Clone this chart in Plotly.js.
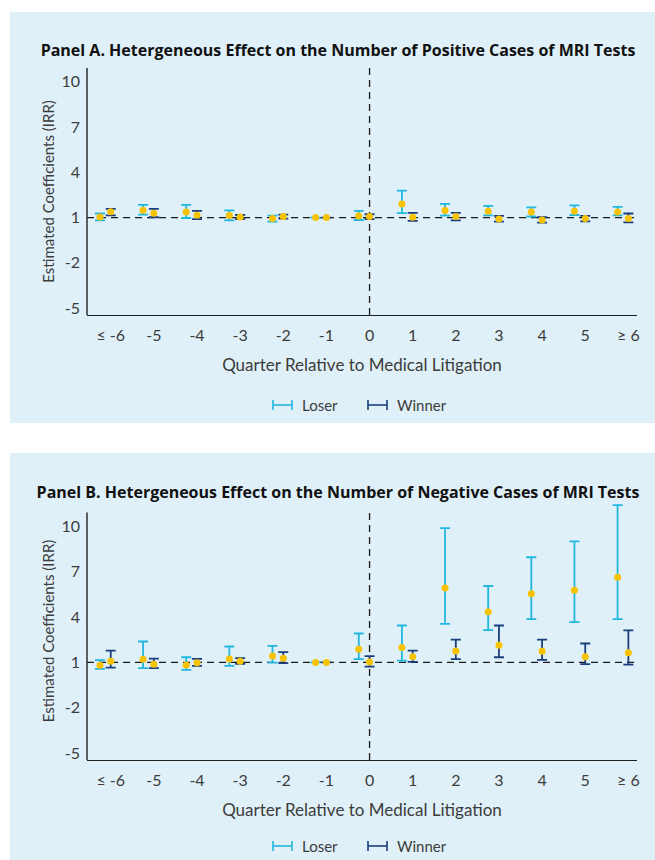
<!DOCTYPE html>
<html>
<head>
<meta charset="utf-8">
<script src="https://cdn.plot.ly/plotly-3.0.1.min.js"></script>
<style>
  html, body { margin: 0; padding: 0; background: #ffffff; width: 655px; height: 860px; overflow: hidden; }
  #panelA { position: absolute; left: 10px; top: 12px; width: 645px; height: 411px; }
  #panelB { position: absolute; left: 10px; top: 453px; width: 645px; height: 407px; }
</style>
</head>
<body>
<div id="panelA"></div>
<div id="panelB"></div>
<script>
// ---- Data ----
const quarters = ['≤ -6', '-5', '-4', '-3', '-2', '-1', '0', '1', '2', '3', '4', '5', '≥ 6'];
const yTicks = [-5, -2, 1, 4, 7, 10];
const nullIRR = 1;            // reference line (IRR = 1)
const eventQuarter = '0';     // litigation quarter

// Panel A: positive cases
const posLoserPt  = [1.04, 1.49, 1.36, 1.13, 0.93, 1.00, 1.11, 1.89, 1.47, 1.42, 1.36, 1.42, 1.36];
const posLoserHi  = [1.27, 1.84, 1.84, 1.47, 1.13, null, 1.44, 2.78, 1.91, 1.78, 1.67, 1.80, 1.71];
const posLoserLo  = [0.82, 1.20, 0.97, 0.82, 0.73, null, 0.84, 1.29, 1.13, 1.15, 1.07, 1.17, 1.15];
const posWinnerPt = [1.38, 1.29, 1.15, 1.04, 1.07, 1.00, 1.07, 1.02, 1.07, 0.91, 0.84, 0.93, 0.93];
const posWinnerHi = [1.58, 1.58, 1.44, 1.17, 1.20, null, 1.22, 1.31, 1.31, 1.11, 1.02, 1.11, 1.27];
const posWinnerLo = [1.15, 1.02, 0.89, 0.89, 0.93, null, 0.90, 0.78, 0.82, 0.73, 0.66, 0.75, 0.68];

// Panel B: negative cases
const negLoserPt  = [0.81, 1.21, 0.83, 1.23, 1.43, 1.00, 1.87, 1.98, 5.92, 4.35, 5.54, 5.76, 6.62];
const negLoserHi  = [1.15, 2.38, 1.34, 2.05, 2.09, null, 2.91, 3.44, 9.87, 6.05, 7.95, 9.00, 11.39];
const negLoserLo  = [0.57, 0.62, 0.50, 0.77, 0.99, null, 1.21, 1.12, 3.55, 3.13, 3.86, 3.66, 3.86];
const negWinnerPt = [1.08, 0.88, 0.97, 1.08, 1.28, 1.00, 1.03, 1.38, 1.76, 2.14, 1.74, 1.38, 1.63];
const negWinnerHi = [1.78, 1.25, 1.23, 1.28, 1.68, null, 1.41, 1.78, 2.51, 3.44, 2.51, 2.25, 3.11];
const negWinnerLo = [0.66, 0.62, 0.77, 0.90, 0.95, null, 0.72, 1.03, 1.21, 1.34, 1.17, 0.88, 0.85];

// ---- Styles ----
const BG = '#dff0f8';
const LOSER_C = '#22b7df';
const WINNER_C = '#1b3f7d';
const DOT_C = '#f7c300';
const TXT_C = '#3c3c3c';
const AXIS_C = '#222';
const FONT = 'Lato, "Open Sans", sans-serif';
const TITLE_FONT = '"Open Sans", Lato, sans-serif';
const loserOffset = -0.25;
const Y_BOTTOM = -5.45, AXIS_TOP = 10.9;   // visible axis extent
const PX_PER_UNIT = 15.1;

function errTrace(name, pts, hi, lo, offset, color) {
  const x = quarters.map((q, i) => i + offset);
  const plus = pts.map((p, i) => hi[i] == null ? null : hi[i] - p);
  const minus = pts.map((p, i) => lo[i] == null ? null : p - lo[i]);
  return {
    type: 'scatter', mode: 'markers', name: name, x: x, y: pts,
    cliponaxis: false,
    marker: { color: DOT_C, size: 7 },
    error_y: { type: 'data', symmetric: false, array: plus, arrayminus: minus,
               color: color, thickness: 1.8, width: 5 },
    showlegend: false, hoverinfo: 'skip'
  };
}

function makePanel(divId, titleText, dims, lp, lh, ll, wp, wh, wl) {
  const W = 645, H = dims.H;
  const yTop = dims.yTop;
  const m = { l: 77, r: 18, b: dims.b, pad: 0 };
  m.t = dims.axisTopPx - Math.round((yTop - AXIS_TOP) * PX_PER_UNIT);
  const pw = W - m.l - m.r, ph = H - m.t - m.b;
  const px2x = px => (px - m.l) / pw;
  const py2y = py => (H - m.b - py) / ph;
  const evIdx = quarters.indexOf(eventQuarter);

  const legY = py2y(dims.legendY);
  const capH = 5 / ph;
  const shapes = [
    { type: 'line', xref: 'paper', yref: 'y', x0: 0, x1: 1, y0: nullIRR, y1: nullIRR,
      line: { color: '#1a1a1a', width: 1.3, dash: '7px,5px' }, layer: 'below' },
    { type: 'line', xref: 'x', yref: 'y', x0: evIdx, x1: evIdx, y0: Y_BOTTOM, y1: AXIS_TOP,
      line: { color: '#1a1a1a', width: 1.3, dash: '7px,5px' }, layer: 'below' },
    { type: 'line', xref: 'paper', yref: 'y', x0: 0, x1: 0, y0: Y_BOTTOM, y1: AXIS_TOP,
      line: { color: AXIS_C, width: 1.4 } }
  ];
  function legIcon(x0px, x1px, color) {
    const a = px2x(x0px), b = px2x(x1px);
    shapes.push({ type: 'line', xref: 'paper', yref: 'paper', x0: a, x1: b, y0: legY, y1: legY, line: { color: color, width: 1.6 } });
    shapes.push({ type: 'line', xref: 'paper', yref: 'paper', x0: a, x1: a, y0: legY - capH, y1: legY + capH, line: { color: color, width: 1.6 } });
    shapes.push({ type: 'line', xref: 'paper', yref: 'paper', x0: b, x1: b, y0: legY - capH, y1: legY + capH, line: { color: color, width: 1.6 } });
  }
  legIcon(263, 282, LOSER_C);
  legIcon(358, 377, WINNER_C);

  const annotations = [
    { xref: 'paper', yref: 'paper', x: px2x(290), y: legY, xanchor: 'left', yanchor: 'middle',
      text: 'Loser', showarrow: false, font: { family: FONT, size: 15, color: TXT_C } },
    { xref: 'paper', yref: 'paper', x: px2x(385), y: legY, xanchor: 'left', yanchor: 'middle',
      text: 'Winner', showarrow: false, font: { family: FONT, size: 15, color: TXT_C } }
  ];

  const layout = {
    width: W, height: H,
    paper_bgcolor: BG, plot_bgcolor: BG,
    margin: m,
    showlegend: false,
    title: { text: titleText, xref: 'container', yref: 'container', x: dims.titleX / W, y: 1 - dims.titleY / H,
             xanchor: 'center', yanchor: 'middle',
             font: { family: TITLE_FONT, size: 16, color: '#111', weight: 'bold' } },
    xaxis: {
      range: [-0.55, 12.2], tickmode: 'array', tickvals: quarters.map((q, i) => i), ticktext: quarters,
      showgrid: false, zeroline: false, showline: true, linecolor: AXIS_C, linewidth: 1.4,
      ticks: '', ticklabelstandoff: 5,
      tickfont: { family: FONT, size: 16, color: TXT_C },
      title: { text: 'Quarter Relative to Medical Litigation', standoff: 16,
               font: { family: FONT, size: 17, color: TXT_C } }
    },
    yaxis: {
      range: [Y_BOTTOM, yTop], tickmode: 'array', tickvals: yTicks, ticktext: yTicks.map(String),
      showgrid: false, zeroline: false, showline: false,
      ticks: '', ticklabelstandoff: 6,
      tickfont: { family: FONT, size: 16, color: TXT_C },
      title: { text: 'Estimated Coefficients (IRR)', standoff: 3,
               font: { family: FONT, size: 15, color: TXT_C } }
    },
    shapes: shapes,
    annotations: annotations
  };
  const traces = [
    errTrace('Loser', lp, lh, ll, loserOffset, LOSER_C),
    errTrace('Winner', wp, wh, wl, 0, WINNER_C)
  ];
  Plotly.newPlot(divId, traces, layout, { displayModeBar: false, staticPlot: true });
}

makePanel('panelA', '<b>Panel A. Hetergeneous Effect on the Number of Positive Cases of MRI Tests</b>',
  { H: 411, b: 108, axisTopPx: 56, yTop: AXIS_TOP, titleX: 328, titleY: 38, legendY: 393 },
  posLoserPt, posLoserHi, posLoserLo, posWinnerPt, posWinnerHi, posWinnerLo);

makePanel('panelB', '<b>Panel B. Hetergeneous Effect on the Number of Negative Cases of MRI Tests</b>',
  { H: 407, b: 100, axisTopPx: 60, yTop: 11.6, titleX: 328, titleY: 39, legendY: 393 },
  negLoserPt, negLoserHi, negLoserLo, negWinnerPt, negWinnerHi, negWinnerLo);
</script>
</body>
</html>
